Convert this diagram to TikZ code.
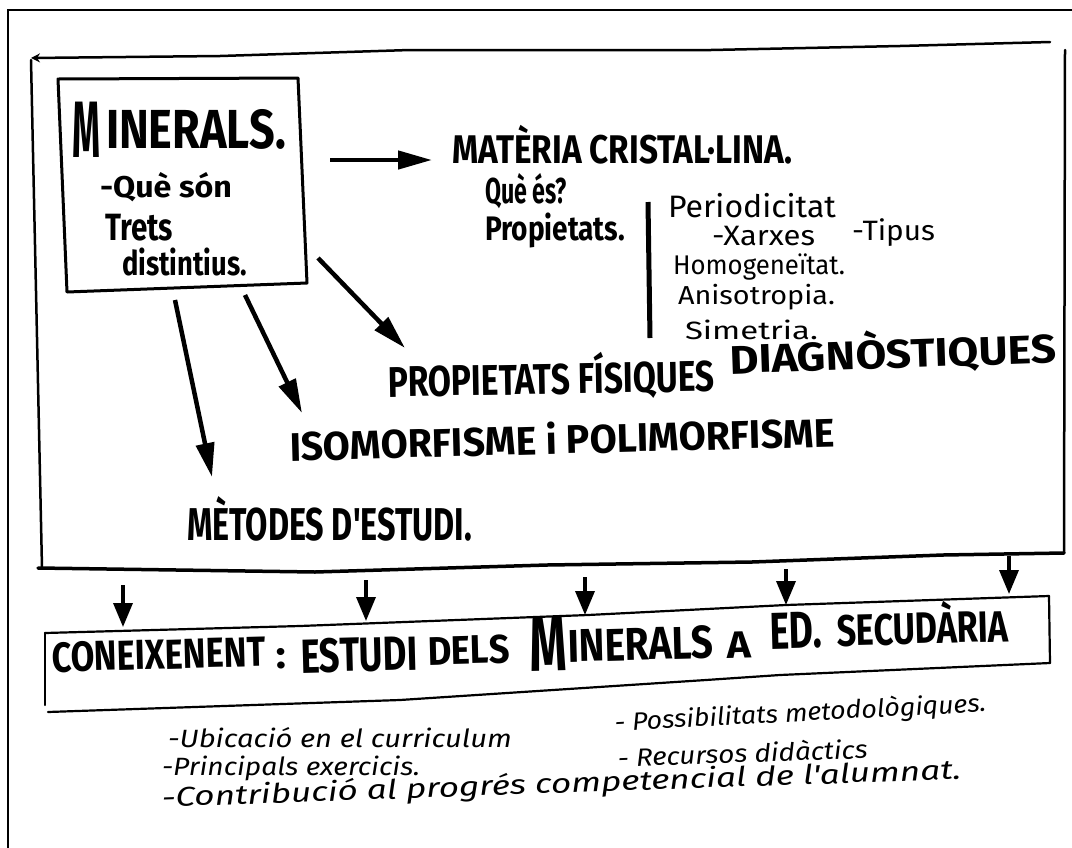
\documentclass[tikz,border=0pt]{standalone}
\usepackage{fontspec}
\usepackage{graphicx}
\newfontfamily\mk{Fira Sans}
\usetikzlibrary{arrows.meta}
\newcommand\fw[2]{\resizebox{#1pt}{\height}{#2}}
\newcommand\fs[1]{\fontsize{#1}{#1}\selectfont}
\tikzset{
  txt/.style={anchor=base west, inner sep=0pt, outer sep=0pt},
  capstxt/.style={txt, font=\mk\bfseries},
  thintxt/.style={txt, font=\mk},
  handtxt/.style={txt, font=\mk\itshape},
  pen/.style={line width=2.5pt, line cap=round, line join=round},
  bigarrow/.style={line width=4.5pt, -{Triangle[length=34pt,width=18pt]}},
  downarrow/.style={line width=3.5pt, -{Triangle[length=24pt,width=19pt]}},
}
\begin{document}
\begin{tikzpicture}[x=1pt,y=-1pt]
\useasboundingbox (0,0) rectangle (1072,847);
\fill[white] (0,0) rectangle (1072,847);
% outer frame (only left and top visible)
\draw[line width=2.5pt] (8,852) -- (8,10) -- (1080,10);

% big hand-drawn box
\draw[pen, {Stealth[length=9pt,width=9pt]}-] (31,58) -- (220,56) -- (410,50) -- (711,50) -- (900,46) -- (1050,42);
\draw[pen] (31,60) -- (42,568);
\draw[pen, line width=3.5pt] (38,568) -- (315,572) -- (547,565) -- (752,562) -- (943,555) -- (1064,553);
\draw[pen] (1065,50) -- (1064,553);

% MINERALS box
\coordinate (b1) at (58,79);
\coordinate (b2) at (298,78);
\coordinate (b3) at (307,283);
\coordinate (b4) at (67,292);
\draw[pen, line width=3pt] (b1) -- (b2) -- (b3) -- (b4) -- cycle;

\node[capstxt, font=\mk\bfseries\fs{80}] (m1) at (72,157) {\fw{28}{M}};
\node[capstxt, font=\mk\bfseries\fs{55}] (m2) at (106,148) {\fw{180}{INERALS.}};
\node[capstxt, font=\mk\bfseries\fs{30}] (q1) at (100,197) {\fw{132}{-Què són}};
\node[capstxt, font=\mk\bfseries\fs{38}] (t1) at (105,240) {\fw{68}{Trets}};
\node[capstxt, font=\mk\bfseries\fs{34}] (t2) at (122,275) {\fw{125}{distintius.}};

% Materia cristal.lina
\node[capstxt, font=\mk\bfseries\fs{40}] (mat) at (452,163) {\fw{340}{MATÈRIA CRISTAL·LINA.}};
\node[capstxt, font=\mk\bfseries\fs{36}] (que) at (485,203) {\fw{82}{Què és?}};
\node[capstxt, font=\mk\bfseries\fs{34}] (prop) at (485,240) {\fw{140}{Propietats.}};
\draw[line width=5pt] (648,202) -- (650,338);
\node[thintxt, font=\mk\fs{31}] (per) at (668,217) {\fw{168}{Periodicitat}};
\node[thintxt, font=\mk\fs{28}] (xar) at (712,245) {\fw{103}{-Xarxes}};
\node[thintxt, font=\mk\fs{28}] (tip) at (852,240) {\fw{83}{-Tipus}};
\node[thintxt, font=\mk\fs{27}] (hom) at (673,274) {\fw{172}{Homogeneïtat.}};
\node[thintxt, font=\mk\fs{26}] (ani) at (678,304) {\fw{157}{Anisotropia.}};
\node[thintxt, font=\mk\fs{25}] (sim) at (685,339) {\fw{133}{Simetria.}};

% other topics
\node[capstxt, font=\mk\bfseries\fs{43}, rotate=1] (pf) at (388,397) {\fw{327}{PROPIETATS FÍSIQUES}};
\node[capstxt, font=\mk\bfseries\fs{40}, rotate=2] (dg) at (730,374) {\fw{327}{DIAGNÒSTIQUES}};
\node[capstxt, font=\mk\bfseries\fs{40}, rotate=1.5] (iso) at (290,461) {\fw{545}{ISOMORFISME i POLIMORFISME}};
\node[capstxt, font=\mk\bfseries\fs{46}] (met) at (187,540) {\fw{285}{MÈTODES D'ESTUDI.}};

% arrows from MINERALS box
\coordinate (a1s) at (330,160); \coordinate (a1e) at (432,160);
\coordinate (a2s) at (318,258); \coordinate (a2e) at (405,348);
\coordinate (a3s) at (245,295); \coordinate (a3e) at (302,413);
\coordinate (a4s) at (175,300); \coordinate (a4e) at (212,477);
\draw[bigarrow] (a1s) -- (a1e);
\draw[bigarrow] (a2s) -- (a2e);
\draw[bigarrow] (a3s) -- (a3e);
\draw[bigarrow] (a4s) -- (a4e);

% down arrows
\coordinate (d1s) at (123,585); \coordinate (d1e) at (123,627);
\coordinate (d2s) at (366,580); \coordinate (d2e) at (366,621);
\coordinate (d3s) at (585,577); \coordinate (d3e) at (585,615);
\coordinate (d4s) at (786,569); \coordinate (d4e) at (786,605);
\coordinate (d5s) at (1009,556); \coordinate (d5e) at (1009,594);
\draw[downarrow] (d1s) -- (d1e);
\draw[downarrow] (d2s) -- (d2e);
\draw[downarrow] (d3s) -- (d3e);
\draw[downarrow] (d4s) -- (d4e);
\draw[downarrow] (d5s) -- (d5e);

% lower box
\draw[pen, line width=2.2pt] (45,633) -- (300,626) -- (588,615) -- (786,605) -- (1049,596);
\draw[pen, line width=2.2pt] (1049,596) -- (1050,663);
\draw[pen, line width=2.2pt] (1050,663) -- (780,675) -- (706,680) -- (400,700) -- (48,712);
\draw[pen, line width=2.2pt] (45,633) -- (45,705);

\node[capstxt, font=\mk\bfseries\fs{42}, rotate=1.5] (c1) at (52,672) {\fw{214}{CONEIXENENT}};
\node[capstxt, font=\mk\bfseries\fs{39}, rotate=1.5] (c2) at (276,668) {\fw{10}{:}};
\node[capstxt, font=\mk\bfseries\fs{48}, rotate=1.5] (c3) at (301,673) {\fw{117}{ESTUDI}};
\node[capstxt, font=\mk\bfseries\fs{40}, rotate=1.5] (c4) at (428,665) {\fw{82}{DELS}};
\node[capstxt, font=\mk\bfseries\fs{78}, rotate=1.5] (c5) at (530,671) {\fw{37}{M}};
\node[capstxt, font=\mk\bfseries\fs{46}, rotate=1.5] (c6) at (568,662) {\fw{146}{INERALS}};
\node[capstxt, font=\mk\bfseries\fs{38}, rotate=1.5] (c7) at (727,658) {\fw{24}{A}};
\node[capstxt, font=\mk\bfseries\fs{52}, rotate=1.5] (c8) at (770,649) {\fw{52}{ED.}};
\node[capstxt, font=\mk\bfseries\fs{44}, rotate=1.5] (c9) at (837,646) {\fw{172}{SECUDÀRIA}};

% bottom list
\node[handtxt, font=\mk\itshape\fs{25}] (l1) at (168,747) {\fw{344}{-Ubicació en el curriculum}};
\node[handtxt, font=\mk\itshape\fs{25}, rotate=3] (l2) at (615,731) {\fw{372}{- Possibilitats metodològiques.}};
\node[handtxt, font=\mk\itshape\fs{25}] (l3) at (162,775) {\fw{258}{-Principals exercicis.}};
\node[handtxt, font=\mk\itshape\fs{25}, rotate=2] (l4) at (618,767) {\fw{250}{- Recursos didàctics}};
\node[handtxt, font=\mk\itshape\fs{27}, rotate=2] (l5) at (162,807) {\fw{800}{-Contribució al progrés competencial de l'alumnat.}};
\end{tikzpicture}
\end{document}
